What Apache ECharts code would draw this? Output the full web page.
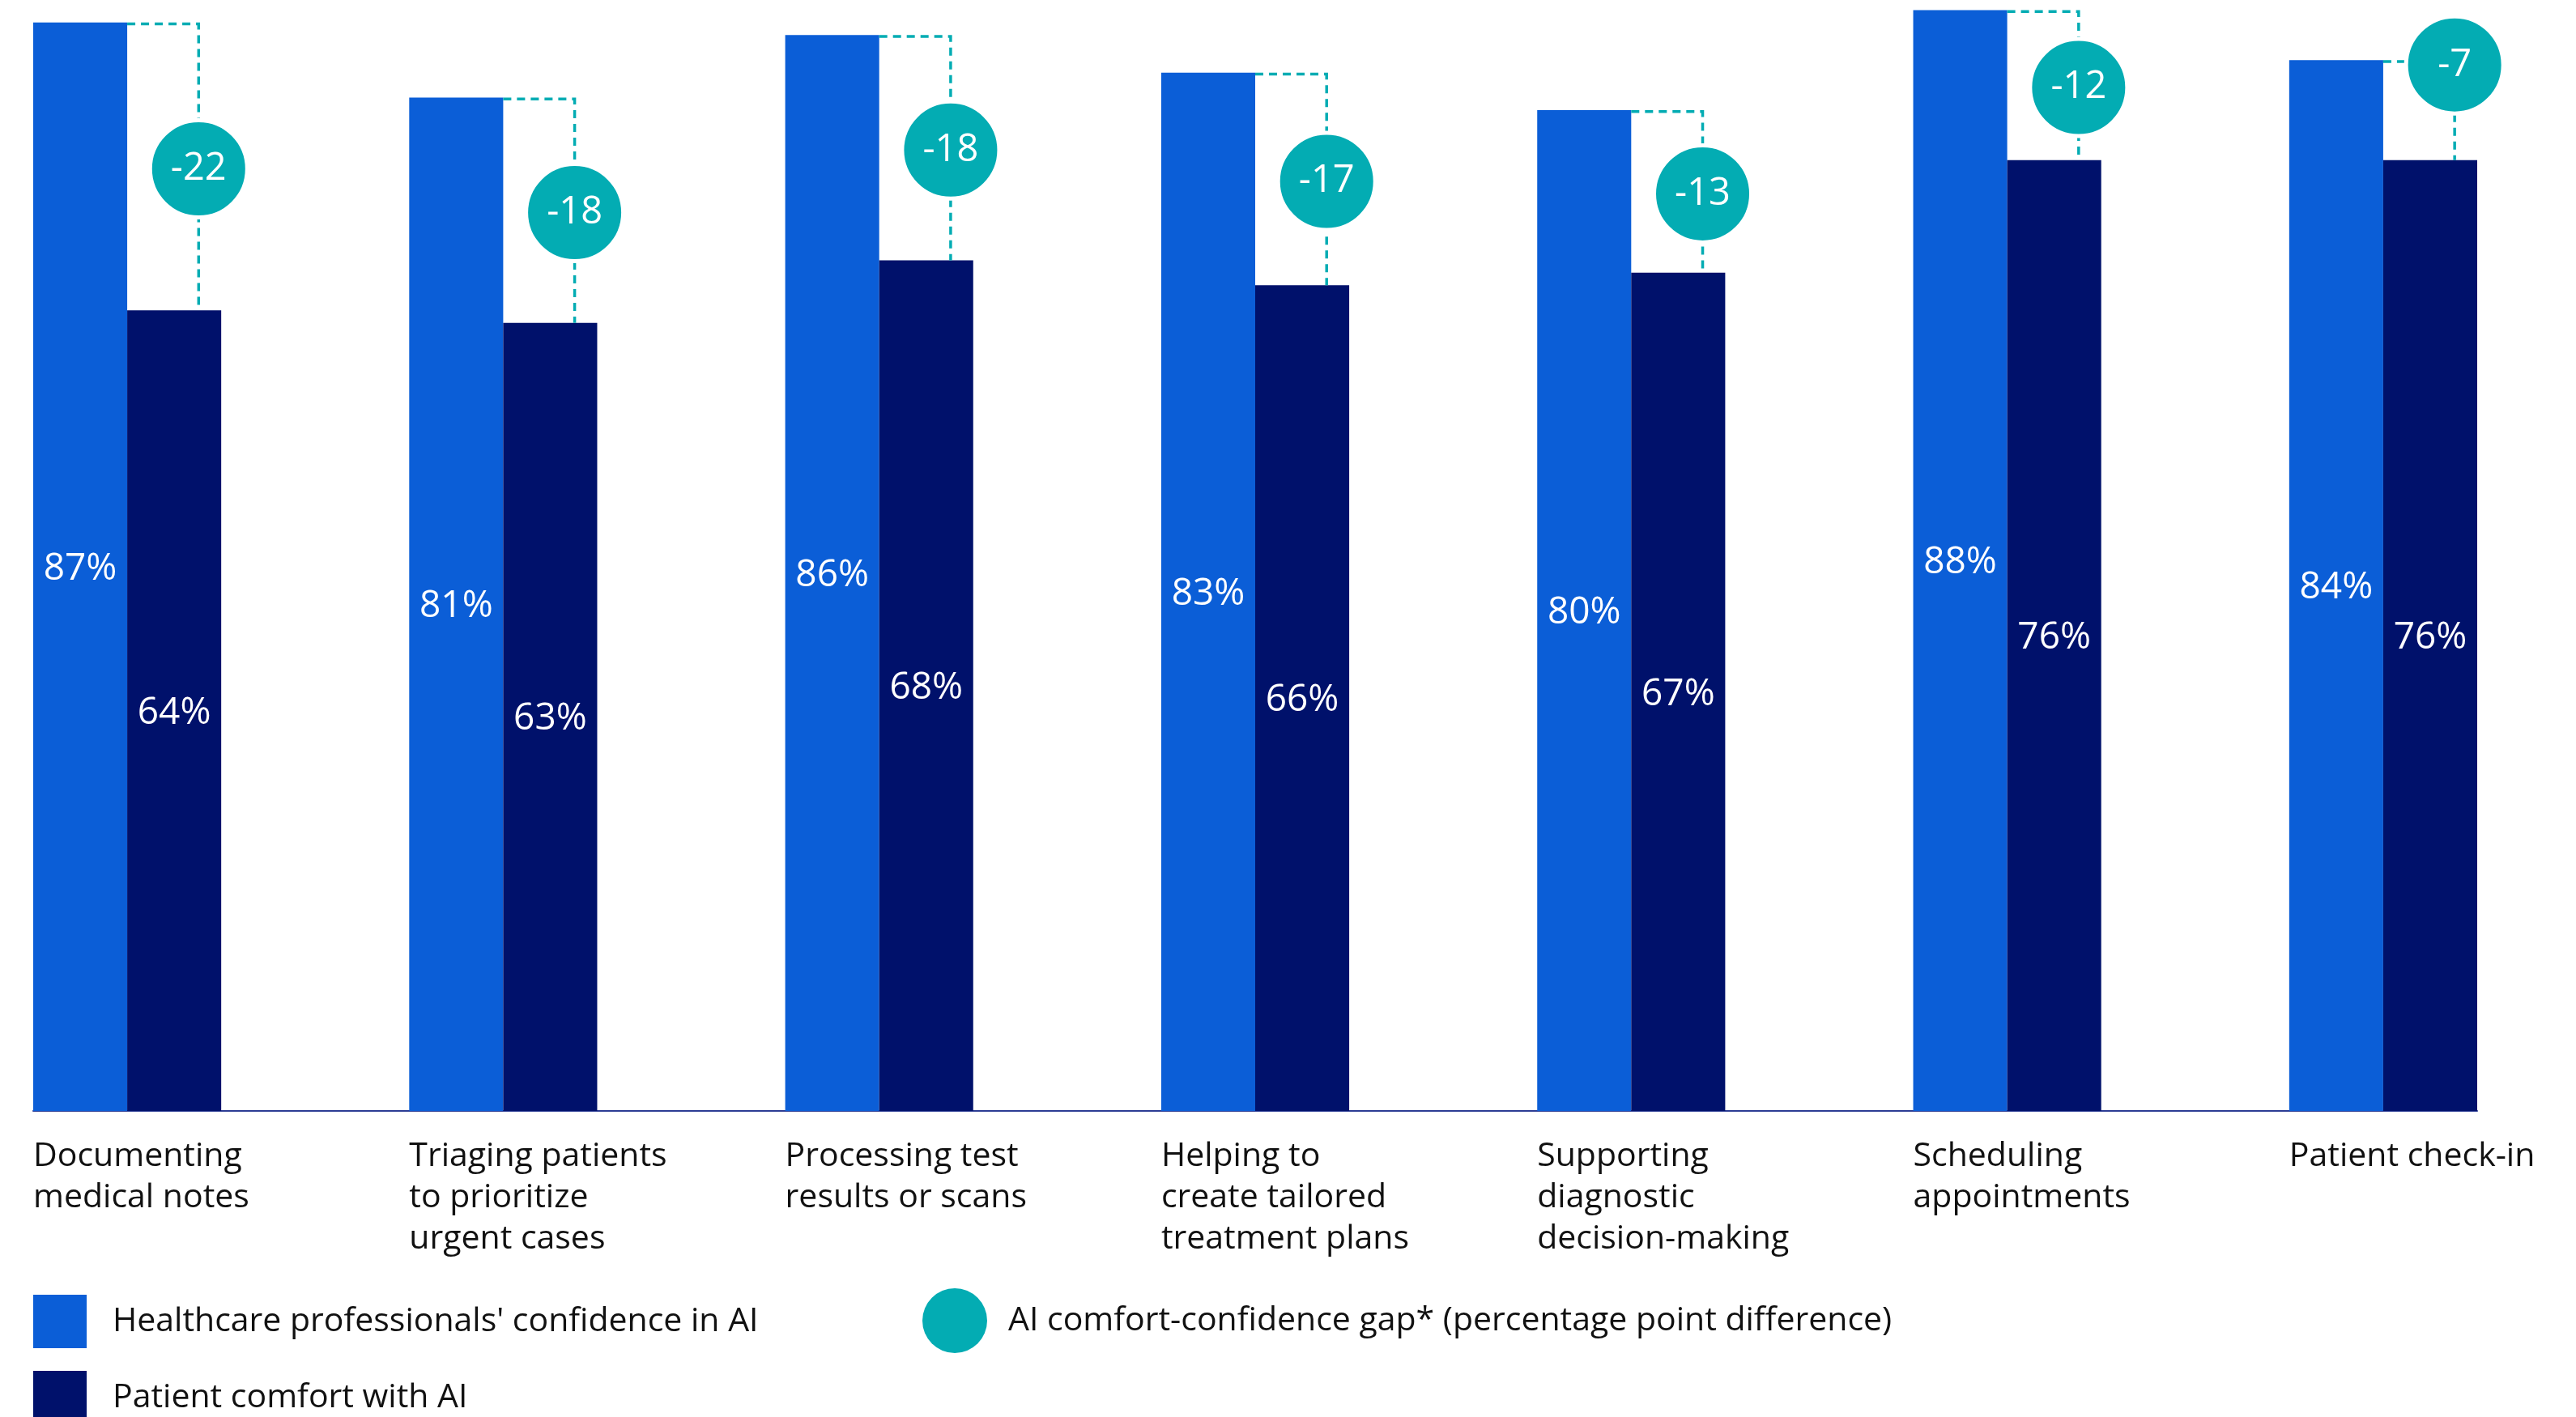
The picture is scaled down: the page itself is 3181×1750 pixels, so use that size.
<!DOCTYPE html>
<html>
<head>
<meta charset="utf-8">
<title>AI confidence vs. patient comfort</title>
<script src="https://cdn.jsdelivr.net/npm/echarts@6/dist/echarts.min.js"></script>
<style>
  html, body { margin: 0; padding: 0; background: #ffffff; }
  #chart { width: 3181px; height: 1750px; }
</style>
</head>
<body>
<div id="chart"></div>
<script>
// Use cases, in display order
const categories = [
  'Documenting\nmedical notes',
  'Triaging patients\nto prioritize\nurgent cases',
  'Processing test\nresults or scans',
  'Helping to\ncreate tailored\ntreatment plans',
  'Supporting\ndiagnostic\ndecision-making',
  'Scheduling\nappointments',
  'Patient check-in'
];

// Share of respondents (%)
const professionalConfidence = [87, 81, 86, 83, 80, 88, 84];
const patientComfort = [64, 63, 68, 66, 67, 76, 76];

// Comfort-confidence gap in percentage points (from unrounded survey values)
const comfortGap = [-22, -18, -18, -17, -13, -12, -7];

const seriesNames = [
  "Healthcare professionals' confidence in AI",
  'Patient comfort with AI',
  'AI comfort-confidence gap* (percentage point difference)'
];

const BLUE = '#0b5ed7';
const NAVY = '#00116b';
const TEAL = '#03acb3';
const FONT = "'Open Sans', 'Noto Sans', sans-serif";

const chart = echarts.init(document.getElementById('chart'), null, { renderer: 'canvas' });

// Gap marker: dashed bracket from the confidence bar top to the comfort bar top,
// with a bubble carrying the gap value.
function renderGap(params, api) {
  const i = api.value(0);
  const hi = api.value(1);
  const lo = api.value(2);
  const label = api.value(3);
  const unit = api.size([1, 0])[0];
  const top = api.coord([i, hi]);
  const low = api.coord([i, lo]);
  const x0 = top[0];
  const vx = x0 + unit * 0.19;
  const yTop = top[1];
  const yLow = low[1];
  const r = 60;
  const span = yLow - yTop;
  const cy = span < 3 * r ? yTop + 0.1 * r : (yTop + yLow) / 2 + 3;
  const lineStyle = {
    stroke: TEAL,
    lineWidth: 3.5,
    lineDash: [10, 7],
    fill: null
  };
  return {
    type: 'group',
    children: [
      {
        type: 'polyline',
        shape: { points: [[x0, yTop + 1.75], [vx, yTop + 1.75], [vx, yLow]] },
        style: lineStyle
      },
      {
        type: 'circle',
        shape: { cx: vx, cy: cy, r: r },
        style: { fill: TEAL, stroke: '#ffffff', lineWidth: 5 }
      },
      {
        type: 'text',
        x: vx,
        y: cy,
        style: {
          text: String(label),
          fill: '#ffffff',
          font: '47px ' + FONT,
          align: 'center',
          verticalAlign: 'middle'
        }
      }
    ]
  };
}

function legendBlock(left, top, size, item, textGap) {
  return {
    orient: 'horizontal',
    left: left,
    top: top,
    padding: 0,
    itemWidth: size,
    itemHeight: size,
    selectedMode: false,
    data: [item],
    textStyle: { fontFamily: FONT, fontSize: 41, color: '#111111', padding: [8, 0, 0, textGap] }
  };
}

const option = {
  backgroundColor: '#ffffff',
  animation: false,
  textStyle: { fontFamily: FONT },
  grid: { left: 41, right: 122, top: 12.4, bottom: 378, containLabel: false },
  xAxis: {
    type: 'value',
    min: -0.25,
    max: 6.25,
    interval: 1,
    splitLine: { show: false },
    axisTick: { show: false },
    axisLine: { show: true, onZero: false, lineStyle: { color: '#2d3d94', width: 2 } },
    axisLabel: {
      show: true,
      showMaxLabel: false,
      align: 'left',
      verticalAlign: 'top',
      margin: 31,
      color: '#111111',
      fontFamily: FONT,
      fontSize: 41,
      lineHeight: 51,
      formatter: function (v) {
        const idx = Math.round(v + 0.25);
        if (Math.abs(v + 0.25 - idx) > 0.01 || idx < 0 || idx >= categories.length) return '';
        return categories[idx];
      }
    }
  },
  yAxis: {
    type: 'value',
    min: 0,
    max: 88,
    show: false,
    splitLine: { show: false }
  },
  legend: [
    legendBlock(41, 1599, 66, { name: seriesNames[0], icon: 'rect' }, 27),
    legendBlock(41, 1693, 66, { name: seriesNames[1], icon: 'rect' }, 27),
    legendBlock(1139, 1591, 80, { name: seriesNames[2], icon: 'circle' }, 21)
  ],
  series: [
    {
      name: seriesNames[0],
      type: 'bar',
      data: professionalConfidence.map((v, i) => [i, v]),
      barGap: '0%',
      barCategoryGap: '50%',
      itemStyle: { color: BLUE },
      label: {
        show: true,
        position: 'inside',
        offset: [0, 3],
        color: '#ffffff',
        fontFamily: FONT,
        fontSize: 46,
        formatter: p => p.value[1] + '%'
      }
    },
    {
      name: seriesNames[1],
      type: 'bar',
      data: patientComfort.map((v, i) => [i, v]),
      barGap: '0%',
      barCategoryGap: '50%',
      itemStyle: { color: NAVY },
      label: {
        show: true,
        position: 'inside',
        offset: [0, 3],
        color: '#ffffff',
        fontFamily: FONT,
        fontSize: 46,
        formatter: p => p.value[1] + '%'
      }
    },
    {
      name: seriesNames[2],
      type: 'custom',
      renderItem: renderGap,
      itemStyle: { color: TEAL },
      encode: { x: 0, y: [1, 2] },
      data: comfortGap.map((g, i) => [i, professionalConfidence[i], patientComfort[i], g]),
      z: 5
    }
  ]
};

chart.setOption(option);
</script>
</body>
</html>
